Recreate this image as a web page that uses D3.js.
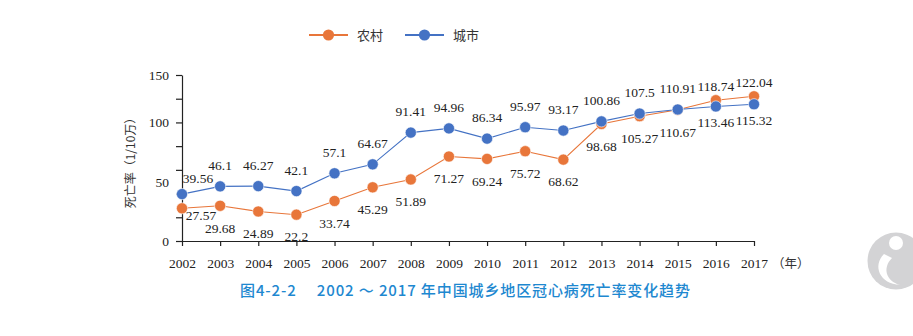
<!DOCTYPE html>
<html>
<head>
<meta charset="utf-8">
<script src="https://cdn.jsdelivr.net/npm/d3@7"></script>
<style>
  html, body { margin: 0; padding: 0; background: #fff; }
  svg { display: block; }
</style>
</head>
<body>
<svg id="chart" width="913" height="336"></svg>
<script>
// ---------- data ----------
const years = ["2002","2003","2004","2005","2006","2007","2008","2009","2010","2011","2012","2013","2014","2015","2016","2017"];
const rural = [27.57,29.68,24.89,22.2,33.74,45.29,51.89,71.27,69.24,75.72,68.62,98.68,105.27,110.67,118.74,122.04];
const urban = [39.56,46.1,46.27,42.1,57.1,64.67,91.41,94.96,86.34,95.97,93.17,100.86,107.5,110.91,113.46,115.32];
const seriesNames = ["农村","城市"];
const yMinorTicks = [0,20,40,60,80,100,120,140];
const yLabelTicks = [0,50,100];
const yTopLabel = "150";
const yTitle = "死亡率（1/10万）";
const xUnit = "（年）";
const caption = "图4-2-2　 2002 ～ 2017 年中国城乡地区冠心病死亡率变化趋势";

// ---------- setup ----------
const svg = d3.select("#chart");
const orange = "#E8763A", blue = "#4472C4";
const serif = "'Liberation Serif','DejaVu Serif',serif";
const cjk = "'Noto Sans CJK SC','Noto Sans',sans-serif";

const x = d3.scalePoint().domain(years).range([182, 754]);
const y = d3.scaleLinear().domain([0, 140]).range([241, 75]);

// y axis minor ticks & line
svg.append("g").attr("transform","translate(182,0)")
  .call(d3.axisLeft(y).tickValues(yMinorTicks).tickSize(6).tickSizeOuter(0).tickFormat(""))
  .call(g => { g.selectAll("path,line").attr("stroke","#222").attr("stroke-width",1.2); });

// y labels
const ylab = svg.append("g").attr("transform","translate(182,0)")
  .call(d3.axisLeft(y).tickValues(yLabelTicks).tickSize(0).tickPadding(13).tickFormat(d3.format("d")))
  .call(g => g.select(".domain").remove());
ylab.selectAll("text").attr("font-family", serif).attr("font-size", 13.5).attr("fill","#222");
svg.append("text").attr("x", 169).attr("y", y(140)).attr("dy","0.35em")
  .attr("text-anchor","end").attr("font-family",serif).attr("font-size",13.5).attr("fill","#222").text(yTopLabel);

// x axis
const xa = svg.append("g").attr("transform","translate(0,241)")
  .call(d3.axisBottom(x).tickSize(5).tickSizeOuter(0).tickPadding(12));
xa.selectAll("path,line").attr("stroke","#222").attr("stroke-width",1.2);
xa.selectAll("text").attr("font-family",serif).attr("font-size",13.5).attr("fill","#222");
svg.append("text").attr("x", 772).attr("y", 268).attr("font-family",cjk).attr("font-size",12.5).attr("fill","#333").text(xUnit);

// y title
svg.append("text").attr("transform","translate(135,160) rotate(-90)")
  .attr("text-anchor","middle").attr("font-family",cjk).attr("font-size",12).attr("fill","#333").text(yTitle);

// series
const series = [
  {name: seriesNames[0], values: rural, color: orange},
  {name: seriesNames[1], values: urban, color: blue}
];
const line = d3.line().x((d,i) => x(years[i])).y(d => y(d));
series.forEach(s => {
  svg.append("path").datum(s.values).attr("d", line).attr("fill","none")
    .attr("stroke", s.color).attr("stroke-width", 1.1);
});
series.forEach(s => {
  svg.selectAll(null).data(s.values).enter().append("circle")
    .attr("cx",(d,i)=>x(years[i])).attr("cy",d=>y(d)).attr("r",5.6)
    .attr("fill", s.color).attr("stroke","#fff").attr("stroke-width",0.6);
});

// data labels
function labelPos(si, i) {
  const v = series[si].values[i], other = series[1-si].values[i];
  const isHigher = v > other;
  if (i === 0) return si === 1 ? {dx: 16, dy: -16} : {dx: 19, dy: 7};
  const cross = rural[i] > urban[i];
  if (cross) return isHigher ? {dx: 0, dy: -14} : {dx: 0, dy: 16};
  return isHigher ? {dx: 0, dy: -21} : {dx: 0, dy: 22};
}
series.forEach((s, si) => {
  svg.selectAll(null).data(s.values).enter().append("text")
    .attr("x",(d,i)=>x(years[i]) + labelPos(si,i).dx)
    .attr("y",(d,i)=>y(d) + labelPos(si,i).dy)
    .attr("dy","0.35em").attr("text-anchor","middle")
    .attr("font-family",serif).attr("font-size",13.5).attr("fill","#222")
    .text(d => d);
});

// legend
const leg = [{x:309, c:orange, t:seriesNames[0]},{x:405, c:blue, t:seriesNames[1]}];
leg.forEach(l => {
  svg.append("line").attr("x1",l.x).attr("x2",l.x+39).attr("y1",35).attr("y2",35).attr("stroke",l.c).attr("stroke-width",2);
  svg.append("circle").attr("cx",l.x+19.5).attr("cy",35).attr("r",5.6).attr("fill",l.c);
  svg.append("text").attr("x",l.x+48).attr("y",35).attr("dy","0.35em")
    .attr("font-family",cjk).attr("font-size",13).attr("fill","#333").text(l.t);
});

// caption
svg.append("text").attr("x",240).attr("y",291).attr("dy","0.35em")
  .attr("font-family",cjk).attr("font-size",15).attr("font-weight",500).attr("fill","#1E88D0")
  .attr("textLength",450).attr("lengthAdjust","spacing").text(caption);

// watermark logo
const wm = svg.append("g");
wm.append("circle").attr("cx",896).attr("cy",261).attr("r",28.5).attr("fill","#d3d3d5");
wm.append("circle").attr("cx",896).attr("cy",243).attr("r",7).attr("fill","#fff");
wm.append("path").attr("d","M884,254 C872,266 880,284 900,285 C886,281 882,268 892,258 Z").attr("fill","#fff");
</script>
</body>
</html>
